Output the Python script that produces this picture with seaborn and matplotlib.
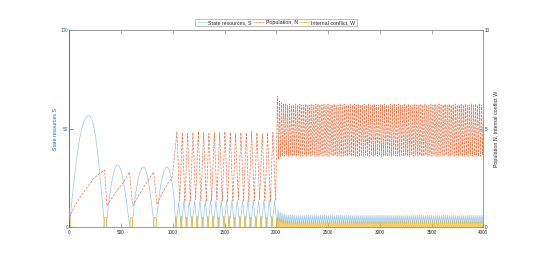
import numpy as np
import pandas as pd
import matplotlib
matplotlib.use('Agg')
import matplotlib.pyplot as plt
import seaborn as sns

# matlab default colours
blue = '#0072BD'
red = '#D95319'
yellow = '#EDB120'
dark = '#262626'

# ---- phase 1 (0-1000): humps
s_t1 = [0, 20, 40, 60, 80, 100, 120, 140, 160, 180, 196, 215, 235, 255, 275, 295, 315, 330, 341,
        355, 375, 395, 415, 435, 455, 475, 495, 515, 535, 555, 575, 590,
        605, 625, 645, 665, 685, 705, 725, 745, 765, 785, 805, 821,
        835, 855, 875, 895, 915, 935, 950, 965, 980, 995, 1012, 1030]
s_v1 = [0, 11, 21, 30, 38, 45, 50, 53.5, 55.5, 56.5, 56.5, 55, 51.5, 45.5, 37, 27, 15, 6, 0,
        0, 10, 18, 24.5, 29, 31.5, 31.5, 29.5, 25.5, 19.5, 12, 4, 0,
        0, 10, 18.5, 24.5, 28.5, 30.5, 30.5, 28, 23, 16, 7.5, 0,
        0, 10, 18.5, 24.5, 28.5, 30.5, 30.5, 29, 26, 22, 15, 0]

n_t1 = [0, 50, 106, 170, 235, 290, 341, 352, 364,
        420, 477, 530, 582, 597, 612,
        670, 720, 770, 815, 831, 847,
        900, 950, 995]
n_v1 = [0.5, 1.05, 1.54, 2.0, 2.47, 2.72, 2.9, 2.0, 1.1,
        1.55, 1.96, 2.35, 2.8, 1.9, 1.1,
        1.6, 2.05, 2.45, 2.8, 2.0, 1.15,
        1.75, 2.2, 2.55]

w_t1 = [0, 14, 333, 340, 358, 365, 584, 591, 607, 614, 813, 820, 840, 847]
w_v1 = [0.95, 0, 0, 0.5, 0.5, 0, 0, 0.5, 0.5, 0, 0, 0.5, 0.5, 0]

# ---- phase 2 (1000-2000): one value per cycle
p2_period = 51.5
n_hi2 = [4.84, 4.80, 4.75, 4.80, 4.85, 4.80, 4.75, 4.80, 4.80, 4.85,
         4.80, 4.75, 4.80, 4.80, 4.85, 4.80, 4.75, 4.80, 4.80]
n_lo2 = [1.35, 1.30, 1.35, 1.40, 1.35, 1.30, 1.35, 1.40, 1.35, 1.30,
         1.35, 1.40, 1.35, 1.30, 1.35, 1.40, 1.35, 1.30, 1.35]
s_hi2 = [12.8, 13.5, 13.7, 13.5, 13.6, 13.7, 13.5, 13.6, 13.7, 13.5,
         13.6, 13.7, 13.5, 13.6, 13.7, 13.5, 13.6, 13.7, 13.5]
s_lo2 = [0.2, 0.3, 0.2, 0.2, 0.3, 0.2, 0.2, 0.3, 0.2, 0.2,
         0.3, 0.2, 0.2, 0.3, 0.2, 0.2, 0.3, 0.2, 0.2]
w_hi2 = [0.55, 0.55, 0.50, 0.55, 0.55, 0.50, 0.55, 0.55, 0.50, 0.55,
         0.55, 0.50, 0.55, 0.55, 0.50, 0.55, 0.55, 0.50, 0.55, 0.50]

# ---- phase 3 (2000-4000)
p3_period = 19.5
n_hi3 = [6.65, 6.40, 6.30, 6.25, 6.25, 6.20, 6.25, 6.20, 6.20, 6.25,
         6.20, 6.25, 6.20, 6.20, 6.25, 6.20, 6.20, 6.25, 6.20, 6.25,
         6.25, 6.20, 6.20, 6.25, 6.20, 6.25, 6.20, 6.20, 6.25, 6.20,
         6.20, 6.25, 6.20, 6.25, 6.20, 6.20, 6.25, 6.20, 6.25, 6.20,
         6.25, 6.20, 6.20, 6.25, 6.20, 6.25, 6.20, 6.20, 6.25, 6.20,
         6.20, 6.25, 6.20, 6.25, 6.20, 6.20, 6.25, 6.20, 6.25, 6.20,
         6.25, 6.20, 6.20, 6.25, 6.20, 6.25, 6.20, 6.20, 6.25, 6.20,
         6.20, 6.25, 6.20, 6.25, 6.20, 6.20, 6.25, 6.20, 6.25, 6.20,
         6.25, 6.20, 6.20, 6.25, 6.20, 6.25, 6.20, 6.20, 6.25, 6.20,
         6.20, 6.25, 6.20, 6.25, 6.20, 6.20, 6.25, 6.20, 6.25, 6.20,
         6.25, 6.20, 6.20]
n_lo3 = [3.45, 3.55, 3.60, 3.60, 3.65, 3.60, 3.65, 3.60, 3.65, 3.60,
         3.65, 3.60, 3.60, 3.65, 3.60, 3.65, 3.60, 3.65, 3.60, 3.60,
         3.60, 3.65, 3.60, 3.65, 3.60, 3.60, 3.65, 3.60, 3.65, 3.60,
         3.65, 3.60, 3.60, 3.65, 3.60, 3.65, 3.60, 3.65, 3.60, 3.60,
         3.60, 3.65, 3.60, 3.65, 3.60, 3.60, 3.65, 3.60, 3.65, 3.60,
         3.65, 3.60, 3.60, 3.65, 3.60, 3.65, 3.60, 3.65, 3.60, 3.60,
         3.60, 3.65, 3.60, 3.65, 3.60, 3.60, 3.65, 3.60, 3.65, 3.60,
         3.65, 3.60, 3.60, 3.65, 3.60, 3.65, 3.60, 3.65, 3.60, 3.60,
         3.60, 3.65, 3.60, 3.65, 3.60, 3.60, 3.65, 3.60, 3.65, 3.60,
         3.65, 3.60, 3.60, 3.65, 3.60, 3.65, 3.60, 3.65, 3.60, 3.60,
         3.60, 3.65, 3.60]
s_hi3 = [8.6, 7.8, 7.2, 6.8, 6.5, 6.3, 6.2, 6.1, 6.1, 6.0,
         6.0, 6.1, 6.0, 6.0, 6.1, 6.0, 6.1, 6.0, 6.0, 6.1,
         6.0, 6.1, 6.0, 6.0, 6.1, 6.0, 6.1, 6.0, 6.0, 6.1,
         6.0, 6.1, 6.0, 6.0, 6.1, 6.0, 6.1, 6.0, 6.0, 6.1,
         6.0, 6.1, 6.0, 6.0, 6.1, 6.0, 6.1, 6.0, 6.0, 6.1,
         6.0, 6.1, 6.0, 6.0, 6.1, 6.0, 6.1, 6.0, 6.0, 6.1,
         6.0, 6.1, 6.0, 6.0, 6.1, 6.0, 6.1, 6.0, 6.0, 6.1,
         6.0, 6.1, 6.0, 6.0, 6.1, 6.0, 6.1, 6.0, 6.0, 6.1,
         6.0, 6.1, 6.0, 6.0, 6.1, 6.0, 6.1, 6.0, 6.0, 6.1,
         6.0, 6.1, 6.0, 6.0, 6.1, 6.0, 6.1, 6.0, 6.0, 6.1,
         6.0, 6.1, 6.0]
s_lo3 = [2.6, 2.3, 2.1, 2.0, 2.0, 1.9, 2.0, 2.0, 1.9, 2.0,
         2.0, 1.9, 2.0, 2.0, 1.9, 2.0, 2.0, 1.9, 2.0, 2.0,
         1.9, 2.0, 2.0, 1.9, 2.0, 2.0, 1.9, 2.0, 2.0, 1.9,
         2.0, 2.0, 1.9, 2.0, 2.0, 1.9, 2.0, 2.0, 1.9, 2.0,
         2.0, 1.9, 2.0, 2.0, 1.9, 2.0, 2.0, 1.9, 2.0, 2.0,
         1.9, 2.0, 2.0, 1.9, 2.0, 2.0, 1.9, 2.0, 2.0, 1.9,
         2.0, 2.0, 1.9, 2.0, 2.0, 1.9, 2.0, 2.0, 1.9, 2.0,
         2.0, 1.9, 2.0, 2.0, 1.9, 2.0, 2.0, 1.9, 2.0, 2.0,
         1.9, 2.0, 2.0, 1.9, 2.0, 2.0, 1.9, 2.0, 2.0, 1.9,
         2.0, 2.0, 1.9, 2.0, 2.0, 1.9, 2.0, 2.0, 1.9, 2.0,
         2.0, 1.9, 2.0]
w_hi3 = [0.45, 0.40, 0.36, 0.33, 0.31, 0.30, 0.29, 0.28, 0.28, 0.27,
         0.28, 0.27, 0.28, 0.28, 0.27, 0.28, 0.27, 0.28, 0.28, 0.27,
         0.27, 0.28, 0.28, 0.27, 0.28, 0.27, 0.28, 0.28, 0.27, 0.28,
         0.28, 0.27, 0.28, 0.28, 0.27, 0.28, 0.27, 0.28, 0.28, 0.27,
         0.27, 0.28, 0.28, 0.27, 0.28, 0.27, 0.28, 0.28, 0.27, 0.28,
         0.28, 0.27, 0.28, 0.28, 0.27, 0.28, 0.27, 0.28, 0.28, 0.27,
         0.27, 0.28, 0.28, 0.27, 0.28, 0.27, 0.28, 0.28, 0.27, 0.28,
         0.28, 0.27, 0.28, 0.28, 0.27, 0.28, 0.27, 0.28, 0.28, 0.27,
         0.27, 0.28, 0.28, 0.27, 0.28, 0.27, 0.28, 0.28, 0.27, 0.28,
         0.28, 0.27, 0.28, 0.28, 0.27, 0.28, 0.27, 0.28, 0.28, 0.27,
         0.28, 0.27, 0.28]


def zigzag(start, period, first, second):
    t, v = [], []
    for k in range(len(first)):
        t += [start + k * period, start + (k + 0.5) * period]
        v += [first[k], second[k]]
    return t, v


def spikes(start, period, heights, half=8):
    t, v = [], []
    for k, h in enumerate(heights):
        c = start + k * period
        t += [c - half, c - 3, c + 3, c + half]
        v += [0, h, h, 0]
    return t, v


t2, v2 = zigzag(1040, p2_period, n_hi2, n_lo2)
t3, v3 = zigzag(2012, p3_period, n_hi3, n_lo3)
df_n = pd.DataFrame({'t': n_t1 + t2 + t3, 'v': n_v1 + v2 + v3})

t2, v2 = zigzag(1056, p2_period, s_hi2, s_lo2)
t3, v3 = zigzag(2017, p3_period, s_hi3, s_lo3)
df_s = pd.DataFrame({'t': s_t1 + t2 + t3, 'v': s_v1 + v2 + v3})

t2, v2 = spikes(1030, p2_period, w_hi2)
t3, v3 = spikes(2027, p3_period, w_hi3, half=6)
df_w = pd.DataFrame({'t': w_t1 + t2 + t3, 'v': w_v1 + v2 + v3})

sns.set_style('white')
plt.rcParams['font.family'] = ['Liberation Sans', 'DejaVu Sans']

fig = plt.figure(figsize=(5.34, 2.56), dpi=100)
ax = fig.add_axes([0.1298, 0.112, 0.7753, 0.771])
ax2 = ax.twinx()

sns.lineplot(data=df_s, x='t', y='v', ax=ax, color=blue, lw=0.5, alpha=0.4,
             estimator=None, sort=False, label='State resources, S')
sns.lineplot(data=df_n, x='t', y='v', ax=ax2, color=red, lw=0.5, alpha=0.75,
             linestyle='--', estimator=None, sort=False, label='Population, N')
sns.lineplot(data=df_w, x='t', y='v', ax=ax2, color=yellow, lw=0.5, alpha=0.9,
             estimator=None, sort=False, label='Internal conflict, W')

ax.set_xlim(0, 4000)
ax.set_ylim(0, 100)
ax2.set_ylim(0, 10)
ax.set_xticks(np.arange(0, 4001, 500))
ax.set_yticks([0, 50, 100])
ax2.set_yticks([0, 5, 10])

ax.set_xlabel('')
ax.set_ylabel('State resources S', color=blue, fontsize=3.8, labelpad=2)
ax2.set_ylabel('Population N, Internal conflict W', color=dark, fontsize=3.8,
               rotation=90, labelpad=3)

for s in ['top', 'right']:
    ax.spines[s].set_visible(False)
ax.spines['left'].set_color(blue)
ax.spines['bottom'].set_color('#8c8c8c')
ax2.spines['left'].set_visible(False)
ax2.spines['bottom'].set_visible(False)
ax2.spines['top'].set_color('#8c8c8c')
ax2.spines['right'].set_color('#8c8c8c')
for sp in list(ax.spines.values()) + list(ax2.spines.values()):
    sp.set_linewidth(0.6)

ax.tick_params(axis='x', top=True, bottom=True, direction='in', length=2.6,
               width=0.5, colors='#8c8c8c', labelcolor=dark, labelsize=3.3, pad=2)
ax.tick_params(axis='y', direction='in', length=2.6, width=0.5, colors=blue,
               labelsize=3.3, pad=1)
ax2.tick_params(axis='y', direction='in', length=2.6, width=0.5,
                colors='#8c8c8c', labelcolor=dark, labelsize=3.3, pad=1)

handles = ax.get_legend_handles_labels()
handles2 = ax2.get_legend_handles_labels()
ax.get_legend().remove()
ax2.get_legend().remove()
leg = fig.legend(handles[0] + handles2[0], handles[1] + handles2[1],
                 loc='center', bbox_to_anchor=(0.517, 0.912), ncol=3,
                 fontsize=3.8, frameon=True, fancybox=False, handlelength=1.9,
                 handletextpad=0.3, columnspacing=0.4, borderpad=0.25)
leg.get_frame().set_edgecolor('#8c8c8c')
leg.get_frame().set_linewidth(0.5)

fig.savefig('out.png', dpi=100)
